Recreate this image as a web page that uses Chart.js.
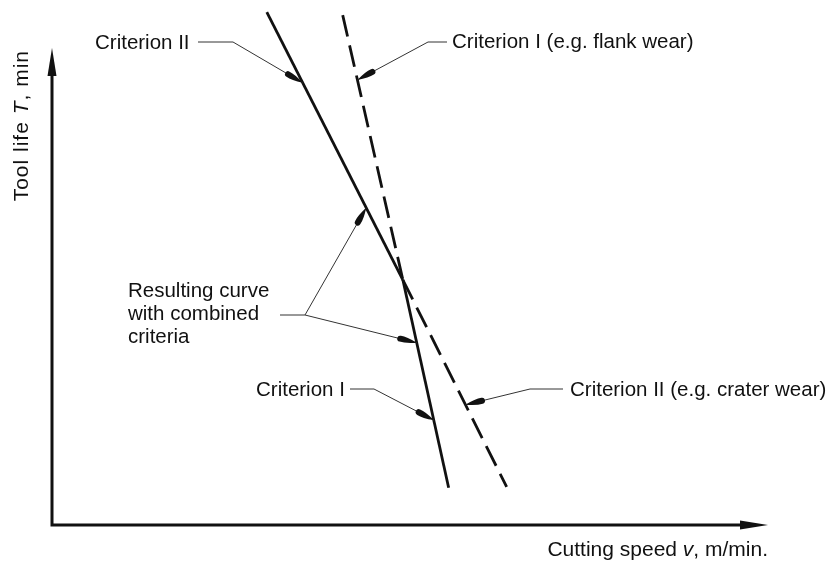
<!DOCTYPE html>
<html>
<head>
<meta charset="utf-8">
<script src="https://cdn.jsdelivr.net/npm/chart.js@4.4.1/dist/chart.umd.min.js"></script>
<style>
  html, body { margin: 0; padding: 0; background: #fff; }
  canvas { display: block; }
</style>
</head>
<body>
<canvas id="chart" width="832" height="562"></canvas>
<script>
// Tool life vs cutting speed, two wear criteria (relative units)
const crit2Speed = [30.0, 49.0, 63.5];
const crit2Life  = [107.5, 51.4, 8.0];
const crit1Speed = [40.6, 49.0, 55.4];
const crit1Life  = [106.9, 51.4, 7.8];

// where each leader arrow meets its line (tool life value on that line)
const arrowLine = ['II', 'I', 'II', 'I', 'I', 'II'];
const arrowLife = [92.7, 93.3, 66.5, 38.2, 22.0, 25.2];

const yTitle = [['Tool life ', false], ['T', true], [', min', false]];
const xTitle = [['Cutting speed ', false], ['v', true], [', m/min.', false]];

const FONT = '"Liberation Sans", Arial, sans-serif';
const INK = '#111';

// label blocks: text lines, left x, first line y, elbow of the leader, arrows it points to
const callouts = [
    { lines: ['Criterion II'], x: 95, y: 43, elbow: [[198, 42], [233, 42]], arrows: [0] },
    { lines: ['Criterion I (e.g. flank wear)'], x: 452, y: 42, elbow: [[447, 42], [428, 42]], arrows: [1] },
    { lines: ['Resulting curve', 'with combined', 'criteria'], x: 128, y: 291, lead: 23,
      elbow: [[280, 315], [305, 315]], arrows: [2, 3] },
    { lines: ['Criterion I'], x: 256, y: 390, elbow: [[350, 389], [374, 389]], arrows: [4] },
    { lines: ['Criterion II (e.g. crater wear)'], x: 570, y: 390, elbow: [[563, 389], [530, 389]], arrows: [5] }
];

const pts = (xs, ys) => xs.map((x, i) => ({ x, y: ys[i] }));
const lines = { I: pts(crit1Speed, crit1Life), II: pts(crit2Speed, crit2Life) };

function speedAt(line, life) {
    const p = lines[line];
    for (let i = 0; i < p.length - 1; i++) {
        const a = p[i], b = p[i + 1];
        if ((life - a.y) * (life - b.y) <= 0) return a.x + (life - a.y) / (b.y - a.y) * (b.x - a.x);
    }
    return p[p.length - 1].x;
}

function setFont(ctx, it, size) {
    ctx.font = (it ? 'italic ' : '') + size + 'px ' + FONT;
}
function drawRich(ctx, parts, x, y, size) {
    parts.forEach(([t, it]) => {
        setFont(ctx, it, size);
        ctx.fillText(t, x, y);
        x += ctx.measureText(t).width;
    });
}
function richWidth(ctx, parts, size) {
    return parts.reduce((w, [t, it]) => {
        setFont(ctx, it, size);
        return w + ctx.measureText(t).width;
    }, 0);
}

// slim triangle for the axis ends
function axisHead(ctx, x0, y0, x1, y1, len, half) {
    const a = Math.atan2(y1 - y0, x1 - x0);
    const c = Math.cos(a), s = Math.sin(a);
    ctx.beginPath();
    ctx.moveTo(x1, y1);
    ctx.lineTo(x1 - c * len - s * half, y1 - s * len + c * half);
    ctx.lineTo(x1 - c * len + s * half, y1 - s * len - c * half);
    ctx.closePath();
    ctx.fill();
}

// teardrop head on the leader lines: sharp tip, rounded tail
function leaderHead(ctx, x0, y0, x1, y1, len, half) {
    ctx.save();
    ctx.translate(x1, y1);
    ctx.rotate(Math.atan2(y1 - y0, x1 - x0));
    ctx.beginPath();
    ctx.moveTo(0, 0);
    ctx.quadraticCurveTo(-len * 0.55, half * 1.2, -len + half, half);
    ctx.arc(-len + half, 0, half, Math.PI / 2, -Math.PI / 2);
    ctx.quadraticCurveTo(-len * 0.55, -half * 1.2, 0, 0);
    ctx.fill();
    ctx.restore();
}

const sketchPlugin = {
    id: 'sketch',
    afterDatasetsDraw(chart) {
        const { ctx, chartArea: a, scales: { x, y } } = chart;
        ctx.save();
        ctx.fillStyle = INK;
        ctx.strokeStyle = INK;

        // axes with arrow heads
        ctx.lineWidth = 3;
        ctx.beginPath();
        ctx.moveTo(a.left, a.top + 20);
        ctx.lineTo(a.left, a.bottom);
        ctx.lineTo(a.right - 22, a.bottom);
        ctx.stroke();
        axisHead(ctx, a.left, a.bottom, a.left, a.top, 28, 4.5);
        axisHead(ctx, a.left, a.bottom, a.right, a.bottom, 28, 4.5);

        // axis titles
        ctx.textBaseline = 'middle';
        ctx.textAlign = 'left';
        ctx.save();
        ctx.translate(22, a.top + 2);
        ctx.rotate(-Math.PI / 2);
        ctx.letterSpacing = '1px';
        drawRich(ctx, yTitle, -richWidth(ctx, yTitle, 21), 0, 21);
        ctx.restore();
        drawRich(ctx, xTitle, a.right - richWidth(ctx, xTitle, 21), 550, 21);

        // callouts
        setFont(ctx, false, 20.5);
        callouts.forEach(c => {
            c.lines.forEach((t, i) => ctx.fillText(t, c.x, c.y + i * (c.lead || 0)));
            ctx.lineWidth = 1;
            ctx.strokeStyle = '#333';
            ctx.beginPath();
            ctx.moveTo(c.elbow[0][0], c.elbow[0][1]);
            ctx.lineTo(c.elbow[1][0], c.elbow[1][1]);
            ctx.stroke();
            const [ex, ey] = c.elbow[1];
            c.arrows.forEach(k => {
                const tx = x.getPixelForValue(speedAt(arrowLine[k], arrowLife[k]));
                const ty = y.getPixelForValue(arrowLife[k]);
                ctx.beginPath();
                ctx.moveTo(ex, ey);
                ctx.lineTo(tx, ty);
                ctx.stroke();
                leaderHead(ctx, ex, ey, tx, ty, 20, 3);
            });
        });
        ctx.restore();
    }
};

// solid where the criterion governs, dashed beyond the crossing
const dashAfter = (n) => ({ borderDash: c => (c.p0DataIndex >= n ? [22, 9] : undefined) });
const dashBefore = (n) => ({ borderDash: c => (c.p0DataIndex < n ? [22, 9] : undefined) });

new Chart(document.getElementById('chart'), {
    type: 'scatter',
    plugins: [sketchPlugin],
    data: {
        datasets: [
            { label: 'Criterion II (e.g. crater wear)', data: lines.II, showLine: true, clip: false,
              borderColor: INK, borderWidth: 2.8, pointRadius: 0, segment: dashAfter(1) },
            { label: 'Criterion I (e.g. flank wear)', data: lines.I, showLine: true, clip: false,
              borderColor: INK, borderWidth: 2.8, pointRadius: 0, segment: dashBefore(1) }
        ]
    },
    options: {
        responsive: false,
        animation: false,
        layout: { padding: { left: 52, top: 48, right: 64, bottom: 37 } },
        plugins: { legend: { display: false }, tooltip: { enabled: false } },
        scales: {
            x: { type: 'linear', min: 0, max: 100, display: false },
            y: { type: 'linear', min: 0, max: 100, display: false }
        }
    }
});
</script>
</body>
</html>
